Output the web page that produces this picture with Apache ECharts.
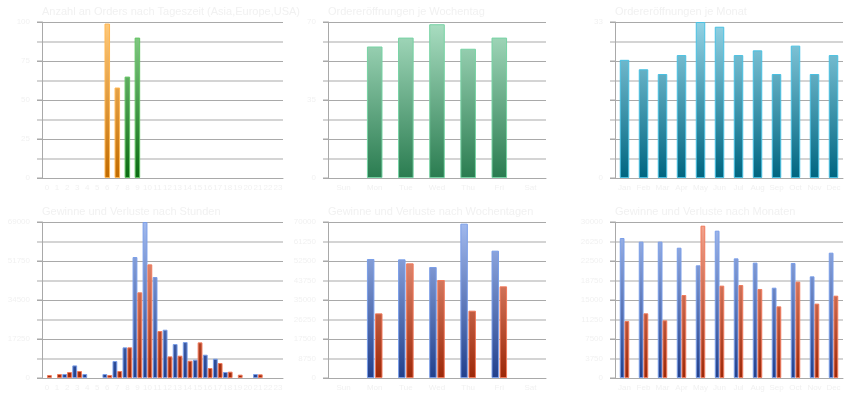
<!DOCTYPE html>
<html>
<head>
<meta charset="utf-8">
<script src="https://cdn.jsdelivr.net/npm/echarts@6/dist/echarts.min.js"></script>
<style>
  html, body { margin: 0; padding: 0; background: #fff; }
  #chart { width: 860px; height: 400px; }
</style>
</head>
<body>
<div id="chart"></div>
<script>
// categories
const hours = ['0','1','2','3','4','5','6','7','8','9','10','11','12','13','14','15','16','17','18','19','20','21','22','23'];
const weekdays = ['Sun','Mon','Tue','Wed','Thu','Fri','Sat'];
const months = ['Jan','Feb','Mar','Apr','May','Jun','Jul','Aug','Sep','Oct','Nov','Dec'];

// orders per hour (null = no bar)
const ordersAsia   = [null,null,null,null,null,null,99,58,null,null,null,null,null,null,null,null,null,null,null,null,null,null,null,null];
const ordersEurope = [null,null,null,null,null,null,null,null,65,90,null,null,null,null,null,null,null,null,null,null,null,null,null,null];
// orders per weekday / month
const ordersWeekday = [null,59,63,69,58,63,null];
const ordersMonth = [25,23,22,26,33,32,26,27,22,28,22,26];

// profit / loss per hour
const profitHour = [null,null,1770,5570,1770,null,1770,7500,13560,53500,69000,44660,21360,15020,15900,8100,10310,8540,2650,null,null,1770,null,null];
const lossHour   = [1300,1770,2650,3090,null,null,1300,3090,13560,37900,50260,20780,9570,9870,7660,15760,4420,6630,2800,1470,null,1620,null,null];
// profit / loss per weekday
const profitWeekday = [null,53400,53250,49800,69250,57140,null];
const lossWeekday   = [null,29000,51450,43970,30210,41130,null];
// profit / loss per month
const profitMonth = [26920,26220,26220,25060,21670,28330,23010,22180,17370,22120,19550,24100];
const lossMonth   = [10960,12440,11090,15960,29290,17760,17880,17120,13780,18530,14300,15830];

const titles = [
  'Anzahl an Orders nach Tageszeit (Asia,Europe,USA)',
  'Ordereröffnungen je Wochentag',
  'Ordereröffnungen je Monat',
  'Gewinne und Verluste nach Stunden',
  'Gewinne und Verluste nach Wochentagen',
  'Gewinne und Verluste nach Monaten'
];

const textColor = '#f1f1f1';
const darkLine = '#a9a9a9';
const lightLine = '#d4d4d4';

const cols = [{ left: 42, width: 241 }, { left: 328, width: 218 }, { left: 615, width: 228 }];
const rows = [{ top: 22, height: 156 }, { top: 222, height: 156 }];

// y axis max and label step (in eighths)
const panelAxis = [
  { max: 100, step: 2 },
  { max: 70, step: 4 },
  { max: 33, step: 8 },
  { max: 69000, step: 2 },
  { max: 70000, step: 1 },
  { max: 30000, step: 1 }
];
const panelCats = [hours, weekdays, months, hours, weekdays, months];

function grad(i, top, bottom) {
  const r = rows[Math.floor(i / 3)];
  return new echarts.graphic.LinearGradient(0, r.top, 0, r.top + r.height, [
    { offset: 0, color: top },
    { offset: 1, color: bottom }
  ], true);
}

const palette = {
  orange: ['#ffca7c', '#c06a00', '#ffb650'],
  green: ['#8ed08e', '#0a6a12', '#62c462'],
  mint: ['#aadec2', '#2a7c50', '#76d3a4'],
  teal: ['#92d2e4', '#006580', '#48c0e2'],
  blue: ['#a2baee', '#22408c', '#7a9ee8'],
  red: ['#f4a690', '#9c2808', '#f07a5c']
};

function style(i, name) {
  const p = palette[name];
  return { color: grad(i, p[0], p[1]), borderColor: p[2], borderWidth: 1 };
}

const grid = [], xAxis = [], yAxis = [], title = [];
for (let i = 0; i < 6; i++) {
  const c = cols[i % 3], r = rows[Math.floor(i / 3)];
  grid.push({ left: c.left, top: r.top, width: c.width, height: r.height });
  title.push({
    text: titles[i], left: c.left, top: r.top - 16, padding: 0,
    textStyle: { color: textColor, fontSize: 11, fontWeight: 'normal', fontFamily: 'Liberation Sans' }
  });
  xAxis.push({
    type: 'category', gridIndex: i, data: panelCats[i],
    axisLine: { lineStyle: { color: darkLine } },
    axisTick: { length: 5, lineStyle: { color: darkLine } },
    axisLabel: { interval: 0, color: textColor, fontSize: 8, margin: 6, fontFamily: 'Liberation Sans' },
    splitLine: { show: false }
  });
  const a = panelAxis[i];
  const unit = a.max / 8;
  yAxis.push({
    type: 'value', gridIndex: i, min: 0, max: a.max, interval: unit,
    axisLine: { show: false },
    axisTick: { show: true, length: 5, lineStyle: { color: lightLine, width: 2 } },
    axisLabel: {
      color: textColor, fontSize: 8, margin: 12, fontFamily: 'Liberation Sans',
      formatter: function (v) {
        return Math.round(v / unit) % a.step === 0 ? String(Math.round(v * 1000) / 1000) : '';
      }
    },
    splitLine: { show: true, lineStyle: { color: ['transparent', lightLine], width: 2 } }
  });
  yAxis.push({
    type: 'value', gridIndex: i, position: 'left', min: 0, max: a.max, interval: unit * 2,
    axisLine: { show: true, lineStyle: { color: darkLine } },
    axisTick: { show: true, length: 5, lineStyle: { color: darkLine } },
    axisLabel: { show: false },
    splitLine: { show: true, lineStyle: { color: darkLine, width: 1 } }
  });
}

const series = [
  { name: 'Asia', type: 'bar', xAxisIndex: 0, yAxisIndex: 1, stack: 'o', barWidth: '55%', data: ordersAsia, itemStyle: style(0, 'orange') },
  { name: 'Europe', type: 'bar', xAxisIndex: 0, yAxisIndex: 1, stack: 'o', barWidth: '55%', data: ordersEurope, itemStyle: style(0, 'green') },
  { name: 'Orders', type: 'bar', xAxisIndex: 1, yAxisIndex: 3, barWidth: '50%', data: ordersWeekday, itemStyle: style(1, 'mint') },
  { name: 'Orders', type: 'bar', xAxisIndex: 2, yAxisIndex: 5, barWidth: '50%', data: ordersMonth, itemStyle: style(2, 'teal') },
  { name: 'Gewinne', type: 'bar', xAxisIndex: 3, yAxisIndex: 7, barGap: '0%', barCategoryGap: '4%', data: profitHour, itemStyle: style(3, 'blue') },
  { name: 'Verluste', type: 'bar', xAxisIndex: 3, yAxisIndex: 7, barGap: '0%', barCategoryGap: '4%', data: lossHour, itemStyle: style(3, 'red') },
  { name: 'Gewinne', type: 'bar', xAxisIndex: 4, yAxisIndex: 9, barGap: '8%', barCategoryGap: '50%', data: profitWeekday, itemStyle: style(4, 'blue') },
  { name: 'Verluste', type: 'bar', xAxisIndex: 4, yAxisIndex: 9, barGap: '8%', barCategoryGap: '50%', data: lossWeekday, itemStyle: style(4, 'red') },
  { name: 'Gewinne', type: 'bar', xAxisIndex: 5, yAxisIndex: 11, barGap: '0%', barCategoryGap: '50%', data: profitMonth, itemStyle: style(5, 'blue') },
  { name: 'Verluste', type: 'bar', xAxisIndex: 5, yAxisIndex: 11, barGap: '0%', barCategoryGap: '50%', data: lossMonth, itemStyle: style(5, 'red') }
];

const chart = echarts.init(document.getElementById('chart'), null, { renderer: 'canvas' });
chart.setOption({
  animation: false,
  backgroundColor: '#ffffff',
  title: title,
  grid: grid,
  xAxis: xAxis,
  yAxis: yAxis,
  series: series
});
</script>
</body>
</html>
